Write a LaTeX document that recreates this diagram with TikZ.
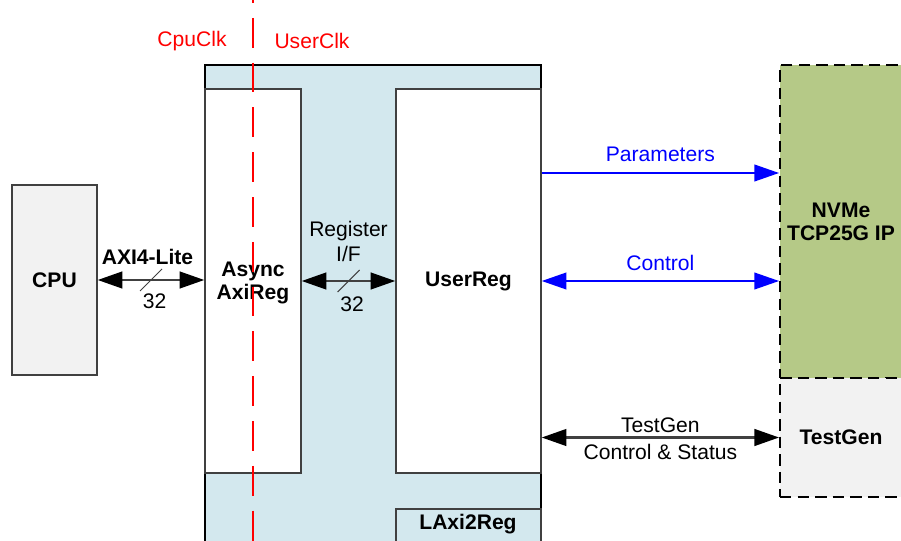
\documentclass[tikz,border=0pt]{standalone}
\usepackage{fontspec}
\setmainfont{Liberation Sans}
\usetikzlibrary{arrows.meta,fit,positioning}
\definecolor{axiblue}{RGB}{211,232,238}
\definecolor{boxgray}{RGB}{242,242,242}
\definecolor{ipgreen}{RGB}{181,201,135}
\definecolor{linegray}{RGB}{64,64,64}
\begin{document}
\begin{tikzpicture}[x=0.02cm,y=-0.02cm,font=\fontsize{12}{14}\selectfont,
    blk/.style={draw=linegray,line width=0.85pt,inner sep=0pt},
    boxtxt/.style={font=\fontsize{12}{13}\selectfont\bfseries,align=center,inner sep=0pt},
    ipblk/.style={blk,draw=black,line width=1.1pt,dash pattern=on 6.5pt off 3.5pt},
    tip/.tip={Triangle[length=14pt,width=9.5pt]},
    btip/.tip={Triangle[length=14pt,width=9.5pt,color=black]},
    bus/.style={draw=linegray,line width=1.2pt,btip-btip},
    sig/.style={draw=blue,line width=0.9pt},
    slash/.style={draw=linegray,line width=0.6pt}]
  \useasboundingbox (0,0) rectangle (901,540);
  \clip (0,0) rectangle (901,540);

  % LAxi2Reg and its modules
  \node[blk,fill=axiblue,draw=black,fit={(205,65) (541,580)}] (laxi) {};
  \node[blk,fill=white,fit={(205,89) (301,473)},
    label={[boxtxt,yshift=-1pt]center:Async\\AxiReg}] (async) {};
  \node[blk,fill=white,fit={(396,89) (541,473)},
    label={[boxtxt]center:UserReg}] (userreg) {};
  \node[blk,fill=axiblue,fit={(396,509) (541,580)}] (laxibox) {};
  \node[boxtxt] (laxitxt) at (468,524) {LAxi2Reg};

  \node[blk,fill=boxgray,fit={(12,185) (97,375)},
    label={[boxtxt]center:CPU}] (cpu) {};
  \node[ipblk,fill=ipgreen,fit={(780,65) (902,378)},
    label={[boxtxt]center:NVMe\\TCP25G IP}] (nvme) {};
  \node[ipblk,fill=boxgray,fit={(780,378) (902,497)},
    label={[boxtxt]center:TestGen}] (testgen) {};

  % buses
  \draw[bus] (cpu.east) -- (cpu.east -| async.west)
    node[midway,above=5pt,xshift=-2pt,font=\fontsize{12}{14}\selectfont\bfseries] (axilbl) {AXI4-Lite}
    coordinate[midway] (axislash)
    node[midway,below=4pt,xshift=2pt] (axiw) {32};
  \draw[slash] (axislash) ++(-11,11) -- ++(22,-22);

  \draw[bus] (async.east) -- (async.east -| userreg.west)
    node[midway,above=7pt,align=center] (reglbl) {Register\\I/F}
    coordinate[midway] (regslash)
    node[midway,below=5pt,xshift=2pt] (regw) {32};
  \draw[slash] (regslash) ++(-11,11) -- ++(22,-22);

  \draw[sig,-tip] (userreg.east |- 0,173) -- (nvme.west |- 0,173)
    node[midway,above=2.5pt,blue] (paramlbl) {Parameters};
  \draw[sig,tip-tip] (userreg.east |- 0,281) -- (nvme.west |- 0,281)
    node[midway,above=2pt,blue] (ctllbl) {Control};
  \draw[bus] (userreg.east |- testgen.west) -- (testgen.west)
    node[midway,above=0pt,inner sep=2pt] (tglbl) {TestGen}
    node[midway,below=0pt,inner sep=3pt] (tgstat) {Control \& Status};

  % clock domains
  \node[red] (cpuclk) at (192,41) {CpuClk};
  \node[red] (userclk) at (312,41) {UserClk};
  \draw[red,line width=1.1pt,dash pattern=on 17pt off 8.5pt] (253,-27) -- (253,560);
\end{tikzpicture}
\end{document}
